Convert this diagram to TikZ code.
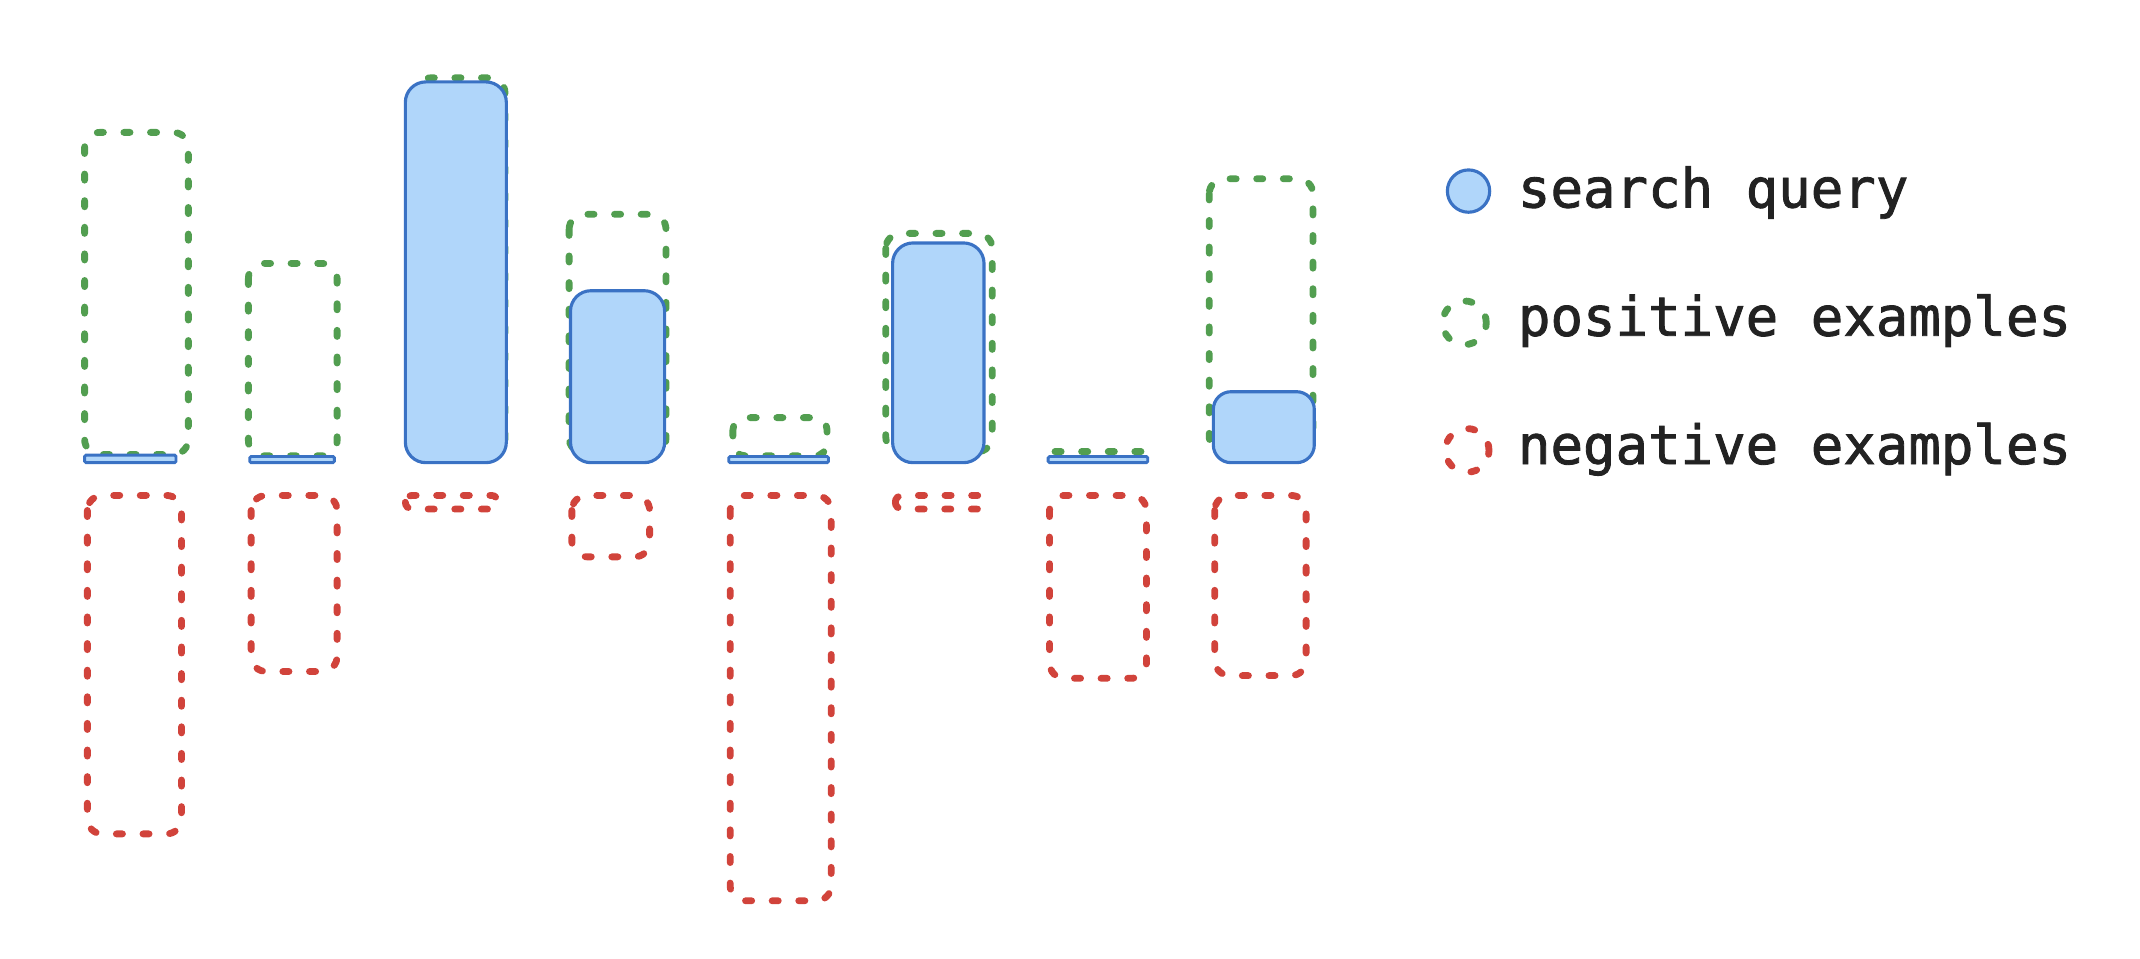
\documentclass[tikz,border=0pt]{standalone}
\usepackage{fontspec}
\newfontfamily\legmono[FakeBold=1.6]{DejaVu Sans Mono}
\definecolor{qfill}{HTML}{B0D6FA}
\definecolor{qline}{HTML}{3A72C4}
\definecolor{posc}{HTML}{529E50}
\definecolor{negc}{HTML}{D1433B}
\definecolor{txt}{HTML}{222222}
\begin{document}
\begin{tikzpicture}[x=1pt,y=-1pt,
  querybox/.style={fill=qfill,draw=qline,line width=2.3pt,rounded corners=15pt},
  qbar/.style={fill=qfill,draw=qline,line width=2.1pt,rounded corners=1pt},
  dashbox/.style={line width=5pt,line cap=round,dash pattern=on 4.5pt off 15pt,rounded corners=11pt},
  posbox/.style={dashbox,draw=posc},
  negbox/.style={dashbox,draw=negc},
  legtext/.style={anchor=base west,inner sep=0pt,font=\legmono\fontsize{39.6}{44}\selectfont,text=txt}]
\useasboundingbox (0,0) rectangle (1568,702);
% column 1
\draw[posbox] (62,97) rectangle (138,333);
\draw[qbar] (62,333.5) rectangle (129,339);
\draw[negbox] (64,363) rectangle (133,611);
% column 2
\draw[posbox] (182,193) rectangle (247,334);
\draw[qbar] (183,334.5) rectangle (245,339);
\draw[negbox] (184,363) rectangle (247,492);
% column 3
\draw[posbox] (305,57) rectangle (370,333);
\draw[querybox] (297,60) rectangle (371,339);
\draw[negbox,rounded corners=5pt] (297,363) rectangle (365,373);
% column 4
\draw[posbox] (417,157) rectangle (488,332);
\draw[querybox] (418,213) rectangle (487,339);
\draw[negbox] (419,363) rectangle (476,408);
% column 5
\draw[posbox,rounded corners=9pt] (537,306) rectangle (606,334);
\draw[qbar] (534,334.5) rectangle (607,339);
\draw[negbox] (535,363) rectangle (609,660);
% column 6
\draw[posbox] (649,171) rectangle (727,331);
\draw[querybox] (654,178) rectangle (721,339);
\draw[negbox,rounded corners=5pt] (656,363) rectangle (721,373);
% column 7
\draw[posbox,rounded corners=0pt] (773,331) -- (840,331);
\draw[qbar] (768,334.5) rectangle (841,339);
\draw[negbox] (769,363) rectangle (840,497);
% column 8
\draw[posbox] (886,131) rectangle (962,331);
\draw[querybox,rounded corners=13pt] (889,287) rectangle (963,339);
\draw[negbox] (890,363) rectangle (957,495);
% legend
\node[circle,fill=qfill,draw=qline,line width=2.3pt,minimum size=31pt,inner sep=0pt] (lq) at (1076,140) {};
\draw[posbox] (1073,236.5) circle (16pt);
\draw[negbox] (1075,330) circle (16pt);
\node[legtext] (tq) at (1112,152) {search query};
\node[legtext] (tp) at (1112,246) {positive examples};
\node[legtext] (tn) at (1112,340) {negative examples};
\end{tikzpicture}
\end{document}
